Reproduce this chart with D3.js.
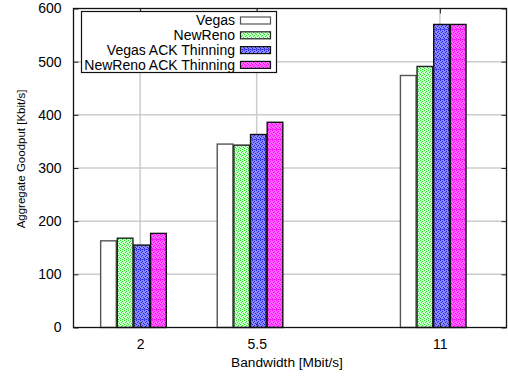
<!DOCTYPE html>
<html>
<head>
<meta charset="utf-8">
<script src="https://cdn.jsdelivr.net/npm/d3@7"></script>
<style>
  html, body { margin: 0; padding: 0; background: #fff; }
  svg { display: block; font-family: "Liberation Sans", Arial, Helvetica, sans-serif; }
</style>
</head>
<body>
<svg id="chart" width="508" height="376"></svg>
<script>
// Bandwidth settings (x positions) and their tick labels
const bandwidths = [2, 5.5, 11];
const xTickLabels = ["2", "5.5", "11"];
const yTicks = [0, 100, 200, 300, 400, 500, 600];

// Series names and aggregate goodput [Kbit/s] per bandwidth
const seriesNames = ["Vegas", "NewReno", "Vegas ACK Thinning", "NewReno ACK Thinning"];
const vegas = [163, 345, 474];
const newReno = [168, 343, 491];
const vegasAck = [155, 363, 570];
const newRenoAck = [177, 386, 570];
const seriesValues = [vegas, newReno, vegasAck, newRenoAck];

const svg = d3.select("#chart");
const mLeft = 73.5, mRight = 506.5, mTop = 8.5, mBottom = 327.5;

const x = d3.scaleLinear().domain([0, 13]).range([mLeft, mRight]);
const y = d3.scaleLinear().domain([0, 600]).range([mBottom, mTop]);

// bar layout in data units: each bar 0.5 wide, cluster starts 1.2 left of its tick
const barW = 0.5, clusterStart = -1.2;

// fill patterns
const defs = svg.append("defs");
function checker(id, base, dot, line) {
  const p = defs.append("pattern").attr("id", id)
    .attr("patternUnits", "userSpaceOnUse").attr("width", 4).attr("height", 10);
  p.append("rect").attr("width", 4).attr("height", 10).attr("fill", base);
  for (let r = 0; r < 10; r += 2) {
    p.append("rect").attr("x", (r / 2) % 2 === 0 ? 0 : 1).attr("y", r).attr("width", 1).attr("height", 1).attr("fill", dot);
    p.append("rect").attr("x", (r / 2) % 2 === 0 ? 2 : 3).attr("y", r + 1).attr("width", 1).attr("height", 1).attr("fill", dot);
  }
  if (line) p.append("rect").attr("x", 0).attr("y", 9).attr("width", 4).attr("height", 1).attr("fill", line).attr("opacity", 0.6);
}
checker("pGreen", "#c8ffc8", "#2ee02e", null);
checker("pBlue", "#8c8cff", "#2222e8", "#3030d8");
checker("pMag", "#ff66ff", "#ff00ff", "#e010e0");

const fills = ["#ffffff", "url(#pGreen)", "url(#pBlue)", "url(#pMag)"];
const strokes = ["#555555", "#222222", "#111111", "#111111"];

// grid
const grid = svg.append("g").attr("stroke", "#cccccc").attr("stroke-width", 1.5);
grid.selectAll("line.gy").data(yTicks.slice(1, -1)).join("line")
  .attr("x1", mLeft).attr("x2", mRight).attr("y1", d => y(d)).attr("y2", d => y(d));
grid.selectAll("line.gx").data(bandwidths).join("line")
  .attr("x1", d => x(d)).attr("x2", d => x(d)).attr("y1", mTop).attr("y2", mBottom);

// bars
seriesValues.forEach((vals, si) => {
  svg.append("g").selectAll("rect").data(vals).join("rect")
    .attr("x", (d, i) => x(bandwidths[i] + clusterStart + si * barW) + 0.5)
    .attr("width", x(barW) - x(0) - 1)
    .attr("y", d => y(d))
    .attr("height", d => y(0) - y(d))
    .attr("fill", fills[si])
    .attr("stroke", strokes[si])
    .attr("stroke-width", 1.4);
});

// axes with inward ticks, mirrored on top/right
const yAxis = d3.axisLeft(y).tickValues(yTicks).tickSize(-5).tickPadding(12);
const yR = d3.axisRight(y).tickValues(yTicks).tickSize(-5).tickFormat("");
const xAxis = d3.axisBottom(x).tickValues(bandwidths).tickFormat((d, i) => xTickLabels[i]).tickSize(-5).tickPadding(12);
const xT = d3.axisTop(x).tickValues(bandwidths).tickSize(-5).tickFormat("");

function styleAxis(g) {
  g.select(".domain").remove();
  g.selectAll(".tick line").attr("stroke", "#222").attr("stroke-width", 1);
  g.selectAll(".tick text").attr("fill", "#000").attr("font-size", 14);
}
svg.append("g").attr("transform", `translate(${mLeft},0)`).call(yAxis).call(styleAxis);
svg.append("g").attr("transform", `translate(${mRight},0)`).call(yR).call(styleAxis);
svg.append("g").attr("transform", `translate(0,${mBottom})`).call(xAxis).call(styleAxis);
svg.append("g").attr("transform", `translate(0,${mTop})`).call(xT).call(styleAxis);

// border
svg.append("rect").attr("x", mLeft).attr("y", mTop).attr("width", mRight - mLeft).attr("height", mBottom - mTop)
  .attr("fill", "none").attr("stroke", "#111").attr("stroke-width", 1.3);

// axis titles
svg.append("text").attr("x", 287).attr("y", 362).attr("dy", "0.35em").attr("text-anchor", "middle")
  .attr("font-size", 13.7).attr("fill", "#000").text("Bandwidth [Mbit/s]");
svg.append("text").attr("transform", "translate(21,159) rotate(-90)").attr("dy", "0.35em").attr("text-anchor", "middle")
  .attr("font-size", 11.5).attr("fill", "#000").text("Aggregate Goodput [Kbit/s]");

// legend
const lg = svg.append("g");
lg.append("rect").attr("x", 81.5).attr("y", 11.5).attr("width", 195).attr("height", 61)
  .attr("fill", "#fff").attr("stroke", "#111").attr("stroke-width", 1.2);
seriesNames.forEach((name, i) => {
  const cy = 20.5 + i * 14.8;
  lg.append("text").attr("x", 235).attr("y", cy).attr("dy", "0.35em").attr("text-anchor", "end")
    .attr("font-size", 14).attr("fill", "#000").text(name);
  lg.append("rect").attr("x", 240.5).attr("y", cy - 3.5).attr("width", 30).attr("height", 7)
    .attr("fill", fills[i]).attr("stroke", strokes[i]).attr("stroke-width", 1.2);
});
</script>
</body>
</html>
